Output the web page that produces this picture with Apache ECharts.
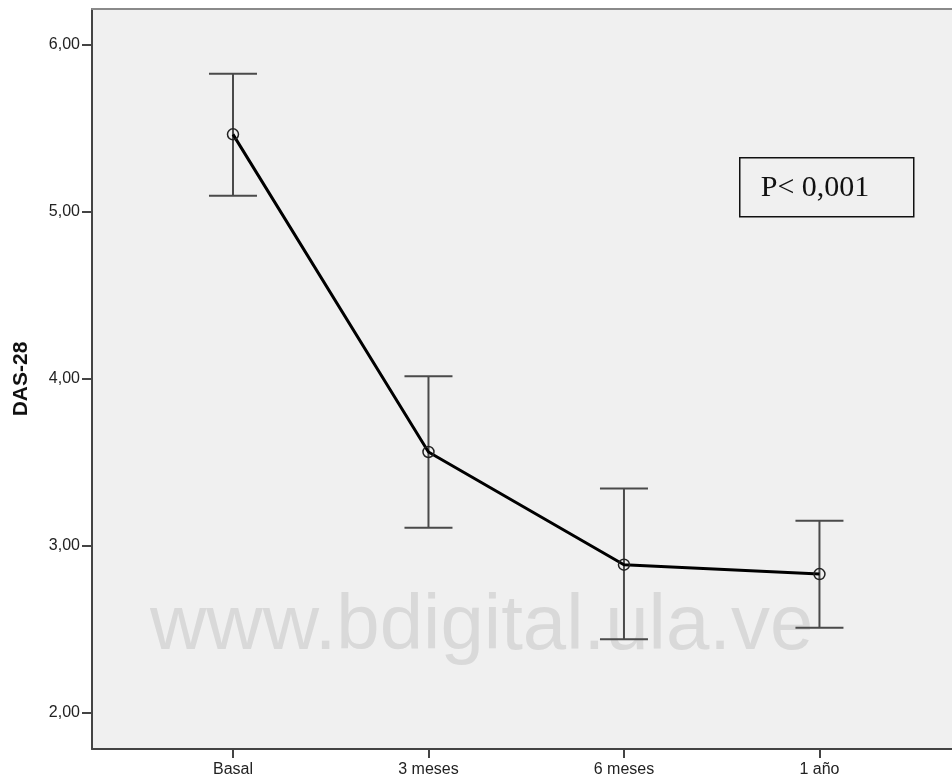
<!DOCTYPE html>
<html>
<head>
<meta charset="utf-8">
<title>DAS-28</title>
<script src="https://cdn.jsdelivr.net/npm/echarts@6/dist/echarts.min.js"></script>
<style>
  html, body { margin: 0; padding: 0; background: #ffffff; }
  #chart { width: 952px; height: 782px; }
</style>
</head>
<body>
<div id="chart"></div>
<script>
// Time points and DAS-28 summary values (mean with interval limits)
const categories = ['Basal', '3 meses', '6 meses', '1 año'];
const meanValues = [5.465, 3.563, 2.888, 2.832];
const upperValues = [5.828, 4.016, 3.345, 3.151];
const lowerValues = [5.098, 3.110, 2.441, 2.511];
const yTickValues = [2, 3, 4, 5, 6];
const pValueText = 'P< 0,001';
const watermarkText = 'www.bdigital.ula.ve';

const chart = echarts.init(document.getElementById('chart'), null, { renderer: 'canvas' });

const linePoints = meanValues.map((v, i) => [i, v]);
const barData = categories.map((c, i) => [i, lowerValues[i], upperValues[i]]);

// The plot frame runs past the right edge of the canvas
const xMin = -0.7212;
const xMax = 3.678;

const option = {
  animation: false,
  backgroundColor: '#ffffff',
  grid: {
    left: 92, top: 9, right: 0, bottom: 33,
    show: true,
    backgroundColor: '#f0f0f0',
    borderWidth: 0
  },
  xAxis: [
    {
      type: 'value',
      position: 'bottom',
      min: xMin,
      max: xMax,
      splitLine: { show: false },
      axisLine: { show: true, onZero: false, lineStyle: { color: '#444444', width: 2 } },
      axisTick: { show: true, length: 9, customValues: [0, 1, 2, 3], lineStyle: { color: '#444444', width: 2 } },
      axisLabel: {
        customValues: [0, 1, 2, 3],
        formatter: v => categories[Math.round(v)],
        color: '#222222',
        fontFamily: 'Liberation Sans, Arial, sans-serif',
        fontSize: 16,
        margin: 13
      }
    },
    {
      type: 'value',
      position: 'top',
      min: xMin,
      max: xMax,
      splitLine: { show: false },
      axisLine: { show: true, onZero: false, lineStyle: { color: '#8a8a8a', width: 2 } },
      axisTick: { show: false },
      axisLabel: { show: false }
    }
  ],
  yAxis: {
    type: 'value',
    min: 1.7844,
    max: 6.2156,
    name: 'DAS-28',
    nameLocation: 'middle',
    nameRotate: 90,
    nameGap: 60,
    nameTextStyle: {
      color: '#111111',
      fontFamily: 'Liberation Sans, Arial, sans-serif',
      fontWeight: 'bold',
      fontSize: 21
    },
    splitLine: { show: false },
    axisLine: { show: true, onZero: false, lineStyle: { color: '#444444', width: 2 } },
    axisTick: { show: true, length: 10, customValues: yTickValues, lineStyle: { color: '#444444', width: 2 } },
    axisLabel: {
      customValues: yTickValues,
      formatter: v => v.toFixed(2).replace('.', ','),
      color: '#222222',
      fontFamily: 'Liberation Sans, Arial, sans-serif',
      fontSize: 16,
      margin: 12
    }
  },
  graphic: [
    {
      type: 'text',
      z: 1,
      left: 150,
      top: 588,
      style: {
        text: watermarkText,
        fill: '#d9d9d9',
        font: '78px "Liberation Sans", Arial, sans-serif'
      }
    },
    {
      type: 'group',
      left: 739,
      top: 157,
      z: 100,
      children: [
        {
          type: 'rect',
          shape: { x: 0, y: 0, width: 174, height: 59 },
          style: { fill: '#f0f0f0', stroke: '#111111', lineWidth: 1.5 }
        },
        {
          type: 'text',
          x: 21,
          y: 30,
          style: {
            text: pValueText,
            fill: '#111111',
            font: '30px "Liberation Serif", "Times New Roman", serif',
            verticalAlign: 'middle'
          }
        }
      ]
    }
  ],
  series: [
    {
      type: 'custom',
      z: 3,
      data: barData,
      renderItem: (params, api) => {
        const x = api.value(0);
        const lo = api.coord([x, api.value(1)]);
        const hi = api.coord([x, api.value(2)]);
        const half = 24;
        const style = { stroke: '#4a4a4a', lineWidth: 2 };
        return {
          type: 'group',
          children: [
            { type: 'line', shape: { x1: hi[0], y1: hi[1], x2: lo[0], y2: lo[1] }, style },
            { type: 'line', shape: { x1: hi[0] - half, y1: hi[1], x2: hi[0] + half, y2: hi[1] }, style },
            { type: 'line', shape: { x1: lo[0] - half, y1: lo[1], x2: lo[0] + half, y2: lo[1] }, style }
          ]
        };
      }
    },
    {
      type: 'line',
      z: 4,
      data: linePoints,
      symbol: 'circle',
      symbolSize: 11,
      showSymbol: true,
      lineStyle: { color: '#000000', width: 3 },
      itemStyle: { color: 'rgba(240,240,240,0)', borderColor: '#222222', borderWidth: 1.5 }
    }
  ]
};

chart.setOption(option);
</script>
</body>
</html>
